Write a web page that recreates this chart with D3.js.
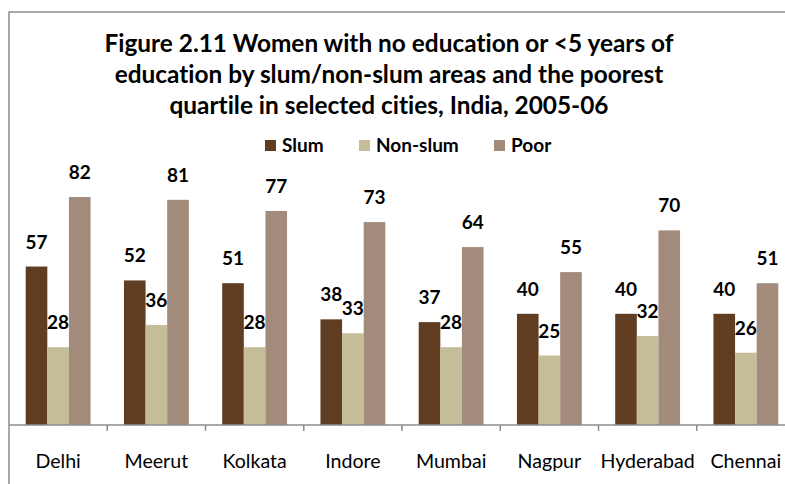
<!DOCTYPE html>
<html>
<head>
<meta charset="utf-8">
<script src="https://cdn.jsdelivr.net/npm/d3@7"></script>
<style>
  body { margin: 0; background: #fff; }
  text { font-family: Lato, "Open Sans", sans-serif; font-variant-ligatures: none; }
</style>
</head>
<body>
<div id="chart"></div>
<script>
"use strict"
// data
var cities = ["Delhi","Meerut","Kolkata","Indore","Mumbai","Nagpur","Hyderabad","Chennai"];
var series = ["Slum","Non-slum","Poor"];
var slum    = [57,52,51,38,37,40,40,40];
var nonSlum = [28,36,28,33,28,25,32,26];
var poor    = [82,81,77,73,64,55,70,51];
var colors = ["#603c20","#c4bd97","#a28b7b"];
var titleLines = [
	"Figure 2.11 Women with no education or <5 years of",
	"education by slum/non-slum areas and the poorest",
	"quartile in selected cities, India, 2005-06"
];

var width = 785,
	height = 484;

var values = [slum, nonSlum, poor];
var rows = cities.map(function(c,i){
	return {city:c, vals: series.map(function(s,j){ return {key:s, v:values[j][i], j:j}; })};
});

var svg = d3.select("#chart").append("svg")
	.attr("width",width)
	.attr("height",height);

// outer frame (runs off the right/bottom edge in the original)
svg.append("rect")
	.attr("x",9).attr("y",12)
	.attr("width",width+20).attr("height",height+20)
	.style("fill","none").style("stroke","#8c8c8c").style("stroke-width",1.5);

var x0 = d3.scaleBand().domain(cities).range([9,795]);
// bars fill the middle two thirds of each category
var x1 = d3.scaleBand().domain(series).range([x0.bandwidth()*0.17, x0.bandwidth()*0.83]);
var y = d3.scaleLinear().domain([0,100]).range([425,147]);

// title
svg.append("g").selectAll("text")
	.data(titleLines).enter().append("text")
	.attr("x",389)
	.attr("y",function(d,i){ return 52+i*31; })
	.attr("text-anchor","middle")
	.style("font-weight","bold")
	.style("font-size","24.4px")
	.style("fill","#000")
	.text(function(d){ return d; });

// legend
var legX = [265,359,494];
var leg = svg.append("g").selectAll("g")
	.data(series).enter().append("g")
	.attr("transform",function(d,i){ return "translate("+legX[i]+",140)"; });
leg.append("rect").attr("width",11).attr("height",11)
	.style("fill",function(d,i){ return colors[i]; });
leg.append("text").attr("x",17).attr("y",11.5)
	.style("font-weight","bold").style("font-size","19px")
	.text(function(d){ return d; });

// bars
var groups = svg.append("g").selectAll("g")
	.data(rows).enter().append("g")
	.attr("transform",function(d){ return "translate("+x0(d.city)+",0)"; });
groups.selectAll("rect")
	.data(function(d){ return d.vals; }).enter().append("rect")
	.attr("x",function(d){ return x1(d.key); })
	.attr("width",x1.bandwidth())
	.attr("y",function(d){ return y(d.v); })
	.attr("height",function(d){ return y(0)-y(d.v); })
	.style("fill",function(d){ return colors[d.j]; });
groups.selectAll("text")
	.data(function(d){ return d.vals; }).enter().append("text")
	.attr("x",function(d){ return x1(d.key)+x1.bandwidth()/2; })
	.attr("y",function(d){ return y(d.v)-18; })
	.attr("text-anchor","middle")
	.style("font-weight","bold").style("font-size","19px")
	.text(function(d){ return d.v; });

// axis
var axis = svg.append("g").attr("transform","translate(0,425)");
axis.append("line").attr("x1",9).attr("x2",width)
	.style("stroke","#8c8c8c").style("stroke-width",1.5);
axis.selectAll(".tick")
	.data(cities.slice(1)).enter().append("line")
	.attr("x1",function(d){ return x0(d); }).attr("x2",function(d){ return x0(d); })
	.attr("y1",0).attr("y2",6)
	.style("stroke","#8c8c8c").style("stroke-width",1.5);
axis.selectAll("text")
	.data(cities).enter().append("text")
	.attr("x",function(d){ return x0(d)+x0.bandwidth()/2; })
	.attr("y",43)
	.attr("text-anchor","middle")
	.style("font-size","19.6px")
	.text(function(d){ return d; });
</script>
</body>
</html>
